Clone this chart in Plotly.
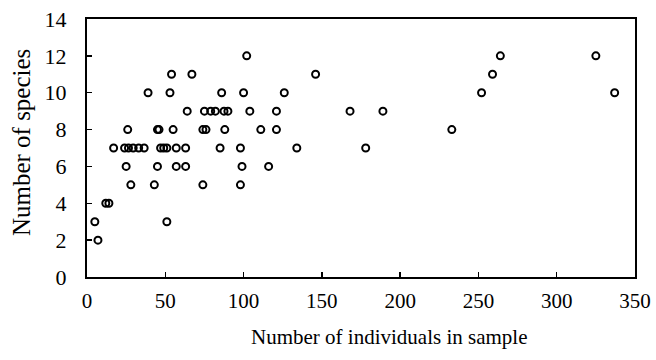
import plotly.graph_objects as go

# Number of individuals in sample (x) and number of species (y), read row by row
x_y2 = [7]
x_y3 = [5, 51]
x_y4 = [12, 14]
x_y5 = [28, 43, 74, 98]
x_y6 = [25, 45, 57, 63, 99, 116]
x_y7 = [17, 24, 26.5, 29.5, 33, 36.5, 47, 49, 51, 57, 63, 85, 98, 134, 178]
x_y8 = [26, 45, 46, 55, 74, 76, 88, 111, 121, 233]
x_y9 = [64, 75, 79, 82, 87.5, 90, 104, 121, 168, 189]
x_y10 = [39, 53, 86, 100, 126, 252, 337]
x_y11 = [54, 67, 146, 259]
x_y12 = [102, 264, 325]

rows = {2: x_y2, 3: x_y3, 4: x_y4, 5: x_y5, 6: x_y6, 7: x_y7, 8: x_y8,
        9: x_y9, 10: x_y10, 11: x_y11, 12: x_y12}
individuals = []
species = []
for s, xs in rows.items():
    for v in xs:
        individuals.append(v)
        species.append(s)

x_ticks = [0, 50, 100, 150, 200, 250, 300, 350]
y_ticks = [0, 2, 4, 6, 8, 10, 12, 14]
x_title = "Number of individuals in sample"
y_title = "Number of species"

font = "Liberation Serif"

fig = go.Figure()
fig.add_trace(go.Scatter(
    x=individuals, y=species, mode="markers",
    marker=dict(symbol="circle-open", size=7, color="black",
                line=dict(width=2, color="black")),
    showlegend=False, hoverinfo="skip",
))

axis_common = dict(
    showgrid=False, zeroline=False, showline=True, linecolor="black",
    linewidth=2, mirror=True, ticks="inside", ticklen=5, tickcolor="black",
    tickwidth=1.5, automargin=False,
)

fig.update_layout(
    width=656, height=360,
    margin=dict(l=87, r=21, t=19, b=83),
    paper_bgcolor="white", plot_bgcolor="white",
    xaxis=dict(range=[0, 350], tickvals=x_ticks,
               tickfont=dict(family=font, size=21, color="black"),
               ticklabelstandoff=4,
               **axis_common),
    yaxis=dict(range=[0, 14], tickvals=y_ticks,
               tickfont=dict(family=font, size=22, color="black"),
               ticklabelstandoff=14,
               **axis_common),
    annotations=[
        dict(text=x_title, xref="paper", yref="paper", x=0.551, y=-0.232,
             xanchor="center", yanchor="middle", showarrow=False,
             font=dict(family=font, size=21, color="black")),
        dict(text=y_title, xref="paper", yref="paper", x=-0.119, y=0.522,
             xanchor="center", yanchor="middle", showarrow=False,
             textangle=-90,
             font=dict(family=font, size=25, color="black")),
    ],
)

# remove the page's default body margin so the figure fills the window exactly
fig.write_html(
    "out.html",
    config={"displayModeBar": False, "staticPlot": True},
    post_script="document.body.style.margin='0';"
                "document.body.style.overflow='hidden';",
)
